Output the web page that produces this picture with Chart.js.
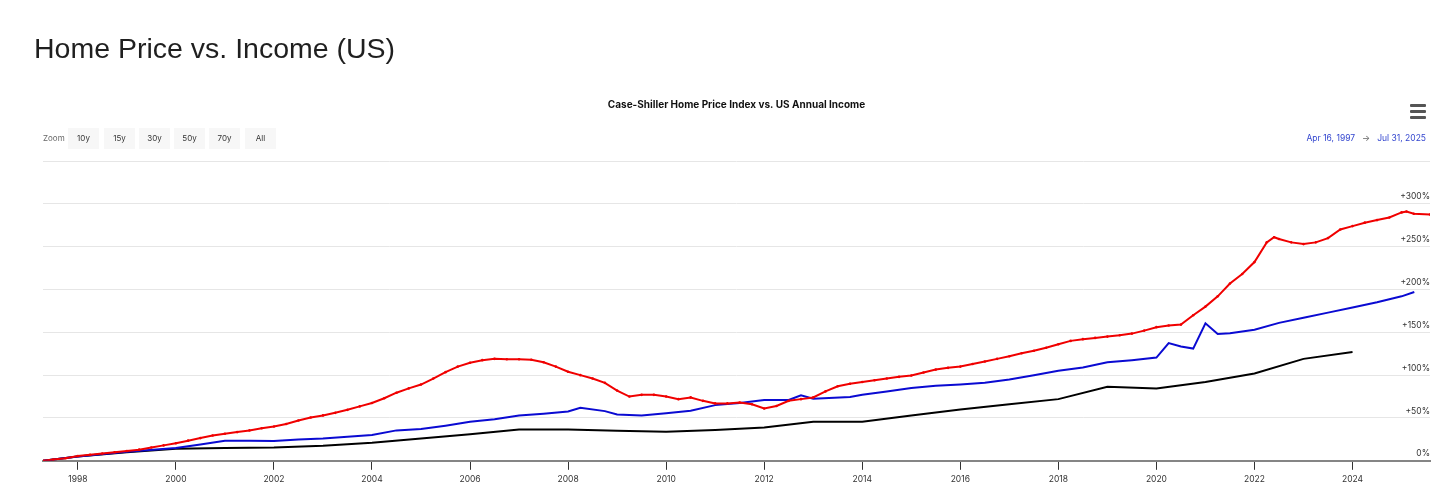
<!DOCTYPE html>
<html>
<head>
<meta charset="utf-8">
<script src="https://cdn.jsdelivr.net/npm/chart.js@4.4.1/dist/chart.umd.min.js"></script>
<style>
  body { margin: 0; background: #fff; }
  #page { position: relative; width: 1456px; height: 503px; overflow: hidden; }
  #heading { position: absolute; left: 34px; top: 34px; font: 28.5px/28.5px "Liberation Sans", Arial, sans-serif; color: #1f1f1f; white-space: nowrap; }
  #wrap { position: absolute; left: 0; top: 0; width: 1456px; height: 503px; }
  .zoom-label { position: absolute; left: 43px; top: 133px; font: 8px Inter, sans-serif; color: #666; }
  .btn { position: absolute; top: 128px; width: 31px; height: 21px; background: #f7f7f7; font: 8px/21px Inter, sans-serif; color: #333; text-align: center; }
  #range { position: absolute; right: 30px; top: 133px; font: 8.5px Inter, sans-serif; color: #3346cf; white-space: nowrap; }
  #range .arrow { color: #666; margin: 0 7px; }
  .bar { position: absolute; left: 1410px; width: 16px; height: 3px; background: #555; border-radius: 1px; }
</style>
</head>
<body>
<div id="page">
  <div id="wrap"><canvas id="chart"></canvas></div>
  <div id="heading">Home Price vs. Income (US)</div>
  <div class="zoom-label">Zoom</div>
  <div class="btn" style="left:68px">10y</div>
  <div class="btn" style="left:104px">15y</div>
  <div class="btn" style="left:139px">30y</div>
  <div class="btn" style="left:174px">50y</div>
  <div class="btn" style="left:209px">70y</div>
  <div class="btn" style="left:245px">All</div>
  <div id="range">Apr 16, 1997<span class="arrow">→</span>Jul 31, 2025</div>
  <div class="bar" style="top:104px"></div>
  <div class="bar" style="top:110px"></div>
  <div class="bar" style="top:116px"></div>
</div>
<script>
// decimal years, values are % change since Apr 1997
const hpiDates = [1997.29, 1997.5, 1997.75, 1998, 1998.25, 1998.5, 1998.75, 1999, 1999.25, 1999.5, 1999.75,
  2000, 2000.25, 2000.5, 2000.75, 2001, 2001.25, 2001.5, 2001.75, 2002, 2002.25, 2002.5, 2002.75,
  2003, 2003.25, 2003.5, 2003.75, 2004, 2004.25, 2004.5, 2004.75, 2005, 2005.25, 2005.5, 2005.75,
  2006, 2006.25, 2006.5, 2006.75, 2007, 2007.25, 2007.5, 2007.75, 2008, 2008.25, 2008.5, 2008.75,
  2009, 2009.25, 2009.5, 2009.75, 2010, 2010.25, 2010.5, 2010.75, 2011, 2011.25, 2011.5, 2011.75,
  2012, 2012.25, 2012.5, 2012.75, 2013, 2013.25, 2013.5, 2013.75, 2014, 2014.25, 2014.5, 2014.75,
  2015, 2015.25, 2015.5, 2015.75, 2016, 2016.25, 2016.5, 2016.75, 2017, 2017.25, 2017.5, 2017.75,
  2018, 2018.25, 2018.5, 2018.75, 2019, 2019.25, 2019.5, 2019.75, 2020, 2020.25, 2020.5, 2020.75,
  2021, 2021.25, 2021.5, 2021.75, 2022, 2022.25, 2022.4, 2022.5, 2022.75, 2023, 2023.25, 2023.5, 2023.75,
  2024, 2024.25, 2024.5, 2024.75, 2025, 2025.1, 2025.25, 2025.58];
const hpiValues = [0, 1.5, 3, 5.5, 7, 8.5, 10, 11.5, 13, 15.5, 18,
  20.5, 23.5, 26.5, 29.5, 31.5, 33.5, 35.5, 38, 40, 43, 47, 50.5,
  53, 56, 59.5, 63.5, 67.5, 73, 79.5, 84.5, 89, 96, 103.5, 110,
  114.5, 117.5, 119, 118.5, 118.5, 118, 115, 110, 104, 100, 96, 91,
  82, 75, 77, 77, 75, 72, 74, 70, 67, 67, 68, 66,
  61, 64, 70, 72, 74, 81, 87, 90, 92, 94, 96, 98,
  99.5, 103, 106.5, 108.5, 110, 113, 116, 119, 122, 125.5, 128.5, 132,
  136, 140, 142, 143.5, 145, 146.5, 148.5, 152, 156, 158, 159, 170,
  180, 192, 207, 218, 232, 255, 261, 259, 255, 253, 255, 260, 270,
  274, 278, 281, 284, 290, 291, 288.5, 287.5];

const incomeDates = [1997.29, 1998, 1999, 2000, 2000.5, 2001, 2001.5, 2002, 2002.5, 2003, 2003.5,
  2004, 2004.5, 2005, 2005.5, 2006, 2006.5, 2007, 2007.5, 2008, 2008.25, 2008.75, 2009, 2009.5,
  2010, 2010.5, 2011, 2011.5, 2012, 2012.5, 2012.75, 2013, 2013.75, 2014, 2014.5, 2015, 2015.5,
  2016, 2016.5, 2017, 2017.5, 2018, 2018.5, 2019, 2019.5, 2020, 2020.25, 2020.5, 2020.75,
  2021, 2021.25, 2021.5, 2022, 2022.5, 2023, 2023.5, 2024, 2024.5, 2025, 2025.26];
const incomeValues = [0, 5, 10.5, 15, 19, 23.5, 23.5, 23, 25, 26, 28,
  30, 35.5, 37, 41, 45.5, 48.5, 53, 55, 57.5, 62, 58, 54, 53,
  55.5, 58.5, 65, 67.5, 71, 71, 76.5, 72.5, 74.5, 77, 81, 85, 87.5,
  89, 91, 95, 100, 105, 109, 115, 117.5, 120.5, 137.5, 133.5, 131,
  160.5, 148, 149, 153, 161, 167, 173, 179, 185, 192, 197];

const householdYears = [1997.29, 1998, 1999, 2000, 2001, 2002, 2003, 2004, 2005, 2006, 2007, 2008, 2009, 2010,
  2011, 2012, 2013, 2014, 2015, 2016, 2017, 2018, 2019, 2020, 2021, 2022, 2023, 2024];
const householdValues = [0, 5, 10, 14, 15, 15.5, 17.5, 21, 26, 31, 36.5, 36.5, 35, 34,
  36, 39, 45.5, 45.5, 53, 60, 66, 72, 86.5, 84.5, 92, 102, 119, 127];

const xTickYears = [1998, 2000, 2002, 2004, 2006, 2008, 2010, 2012, 2014, 2016, 2018, 2020, 2022, 2024];
const yTickValues = [0, 50, 100, 150, 200, 250, 300, 350];

const toPoints = (xs, ys) => xs.map((x, i) => ({ x: x, y: ys[i] }));

Chart.defaults.font.family = "Inter, sans-serif";
Chart.defaults.color = "#333";

const chartConfig = {
  type: "line",
  data: {
    datasets: [
      {
        label: "Case-Shiller Home Price Index",
        data: toPoints(hpiDates, hpiValues),
        borderColor: "#f00000",
        backgroundColor: "#f00000",
        borderWidth: 2,
        pointRadius: 1.3,
        pointBorderWidth: 0,
        tension: 0
      },
      {
        label: "US Income",
        data: toPoints(incomeDates, incomeValues),
        borderColor: "#0a0ad2",
        borderWidth: 2,
        pointRadius: 0,
        tension: 0
      },
      {
        label: "Median Household Income",
        data: toPoints(householdYears, householdValues),
        borderColor: "#000",
        borderWidth: 2,
        pointRadius: 0,
        tension: 0
      }
    ]
  },
  options: {
    responsive: true,
    maintainAspectRatio: false,
    animation: false,
    layout: { padding: { left: 43, right: 26, top: 0, bottom: 13 } },
    plugins: {
      legend: { display: false },
      tooltip: { enabled: false },
      title: {
        display: true,
        text: "Case-Shiller Home Price Index vs. US Annual Income",
        color: "#111",
        font: { size: 10, weight: "bold", lineHeight: 1.2 },
        padding: { top: 99, bottom: 50 }
      }
    },
    scales: {
      x: {
        type: "linear",
        min: 1997.29,
        max: 2025.58,
        afterBuildTicks: axis => { axis.ticks = xTickYears.map(v => ({ value: v })) },
        ticks: {
          callback: v => String(v),
          font: { size: 8.5 },
          color: "#333",
          padding: 5,
          maxRotation: 0
        },
        grid: { drawOnChartArea: false, drawTicks: true, tickLength: 9, tickColor: "#333" },
        border: { display: true, color: "#858585", width: 2 }
      },
      y: {
        position: "right",
        min: 0,
        max: 350,
        afterBuildTicks: axis => { axis.ticks = yTickValues.map(v => ({ value: v })) },
        ticks: {
          mirror: true,
          padding: 0,
          labelOffset: -7,
          font: { size: 8.5 },
          color: "#333",
          callback: v => v === 350 ? "" : (v === 0 ? "0%" : "+" + v + "%")
        },
        grid: { color: "#e6e6e6", drawTicks: false, lineWidth: 1 },
        border: { display: false }
      }
    }
  }
};

const myChart = new Chart(document.getElementById("chart"), chartConfig);
</script>
</body>
</html>
